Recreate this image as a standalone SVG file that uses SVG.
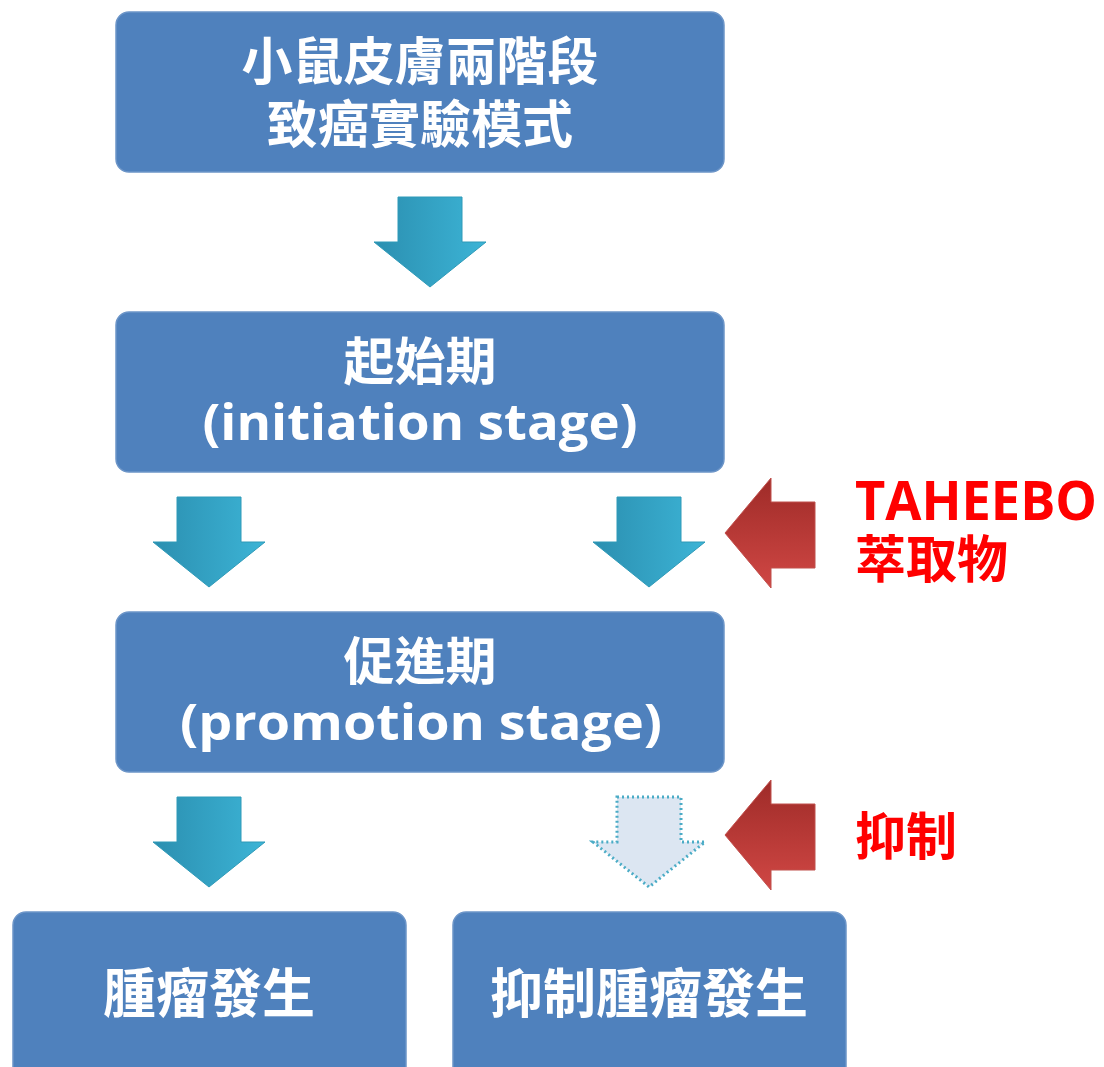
<svg xmlns="http://www.w3.org/2000/svg" width="1104" height="1067" viewBox="0 0 1104 1067">
<defs>
<linearGradient id="cyan" x1="0" y1="0" x2="1" y2="0">
<stop offset="0" stop-color="#2B8FB0"/>
<stop offset="1" stop-color="#3CB4D6"/>
</linearGradient>
<linearGradient id="red" x1="0" y1="0" x2="0" y2="1">
<stop offset="0" stop-color="#9E2B28"/>
<stop offset="1" stop-color="#D04744"/>
</linearGradient>
<path id="down" d="M-32,0 H32 V45 H56 L0,90 L-56,45 H-32 Z"/>
<path id="left" d="M90,24 V90 H46 V110 L0,55 L46,0 V24 Z"/>
</defs>
<style>
.box{fill:#4F81BD;stroke:#6C95C8;stroke-width:1.5}
.cj{font-family:"Noto Sans CJK TC","Noto Sans CJK SC",sans-serif;font-weight:bold;fill:#fff;text-anchor:middle}
.en{font-family:"Open Sans","Noto Sans","Noto Sans CJK TC",sans-serif;font-weight:bold;fill:#fff;text-anchor:middle}
.red{fill:#FF0000;font-weight:bold}
.ca{fill:url(#cyan);stroke:#2E9AB8;stroke-width:1}
.ra{fill:url(#red);stroke:#C0504D;stroke-width:1}
</style>
<g id="connectors">
<use href="#down" class="ca" x="430" y="197"/>
<use href="#down" class="ca" x="209" y="497"/>
<use href="#down" class="ca" x="649" y="497"/>
<use href="#down" class="ca" x="209" y="797"/>
<use href="#down" x="649" y="797" style="fill:#DCE6F2;stroke:#4BACC6;stroke-width:3;stroke-dasharray:2 3"/>
<use href="#left" class="ra" x="725" y="478"/>
<use href="#left" class="ra" x="725" y="780"/>
</g>
<g id="node-model">
<rect class="box" x="116" y="12" width="608" height="160" rx="13"/>
<text class="cj" x="420" y="80" font-size="51">小鼠皮膚兩階段</text>
<text class="cj" x="420" y="143" font-size="51">致癌實驗模式</text>
</g>
<g id="node-initiation">
<rect class="box" x="116" y="312" width="608" height="160" rx="13"/>
<text class="cj" x="420" y="380" font-size="51">起始期</text>
<text class="en" x="420" y="440" font-size="50" textLength="435" lengthAdjust="spacingAndGlyphs">(initiation stage)</text>
</g>
<g id="node-promotion">
<rect class="box" x="116" y="612" width="608" height="160" rx="13"/>
<text class="cj" x="420" y="680" font-size="51">促進期</text>
<text class="en" x="421" y="740" font-size="50" textLength="482" lengthAdjust="spacingAndGlyphs">(promotion stage)</text>
</g>
<g id="node-tumor">
<rect class="box" x="13" y="912" width="393" height="170" rx="13"/>
<text class="cj" x="209" y="1013" font-size="53">腫瘤發生</text>
</g>
<g id="node-inhibit-tumor">
<rect class="box" x="453" y="912" width="393" height="170" rx="13"/>
<text class="cj" x="649" y="1013" font-size="53">抑制腫瘤發生</text>
</g>
<g id="label-taheebo">
<text class="red" x="855" y="520" font-size="53" font-family="'Open Sans','Liberation Sans',sans-serif" textLength="242" lengthAdjust="spacingAndGlyphs">TAHEEBO</text>
<text class="red" x="855" y="578" font-size="51" font-family="'Noto Sans CJK TC',sans-serif">萃取物</text>
</g>
<g id="label-inhibit">
<text class="red" x="855" y="855" font-size="51" font-family="'Noto Sans CJK TC',sans-serif">抑制</text>
</g>
</svg>
